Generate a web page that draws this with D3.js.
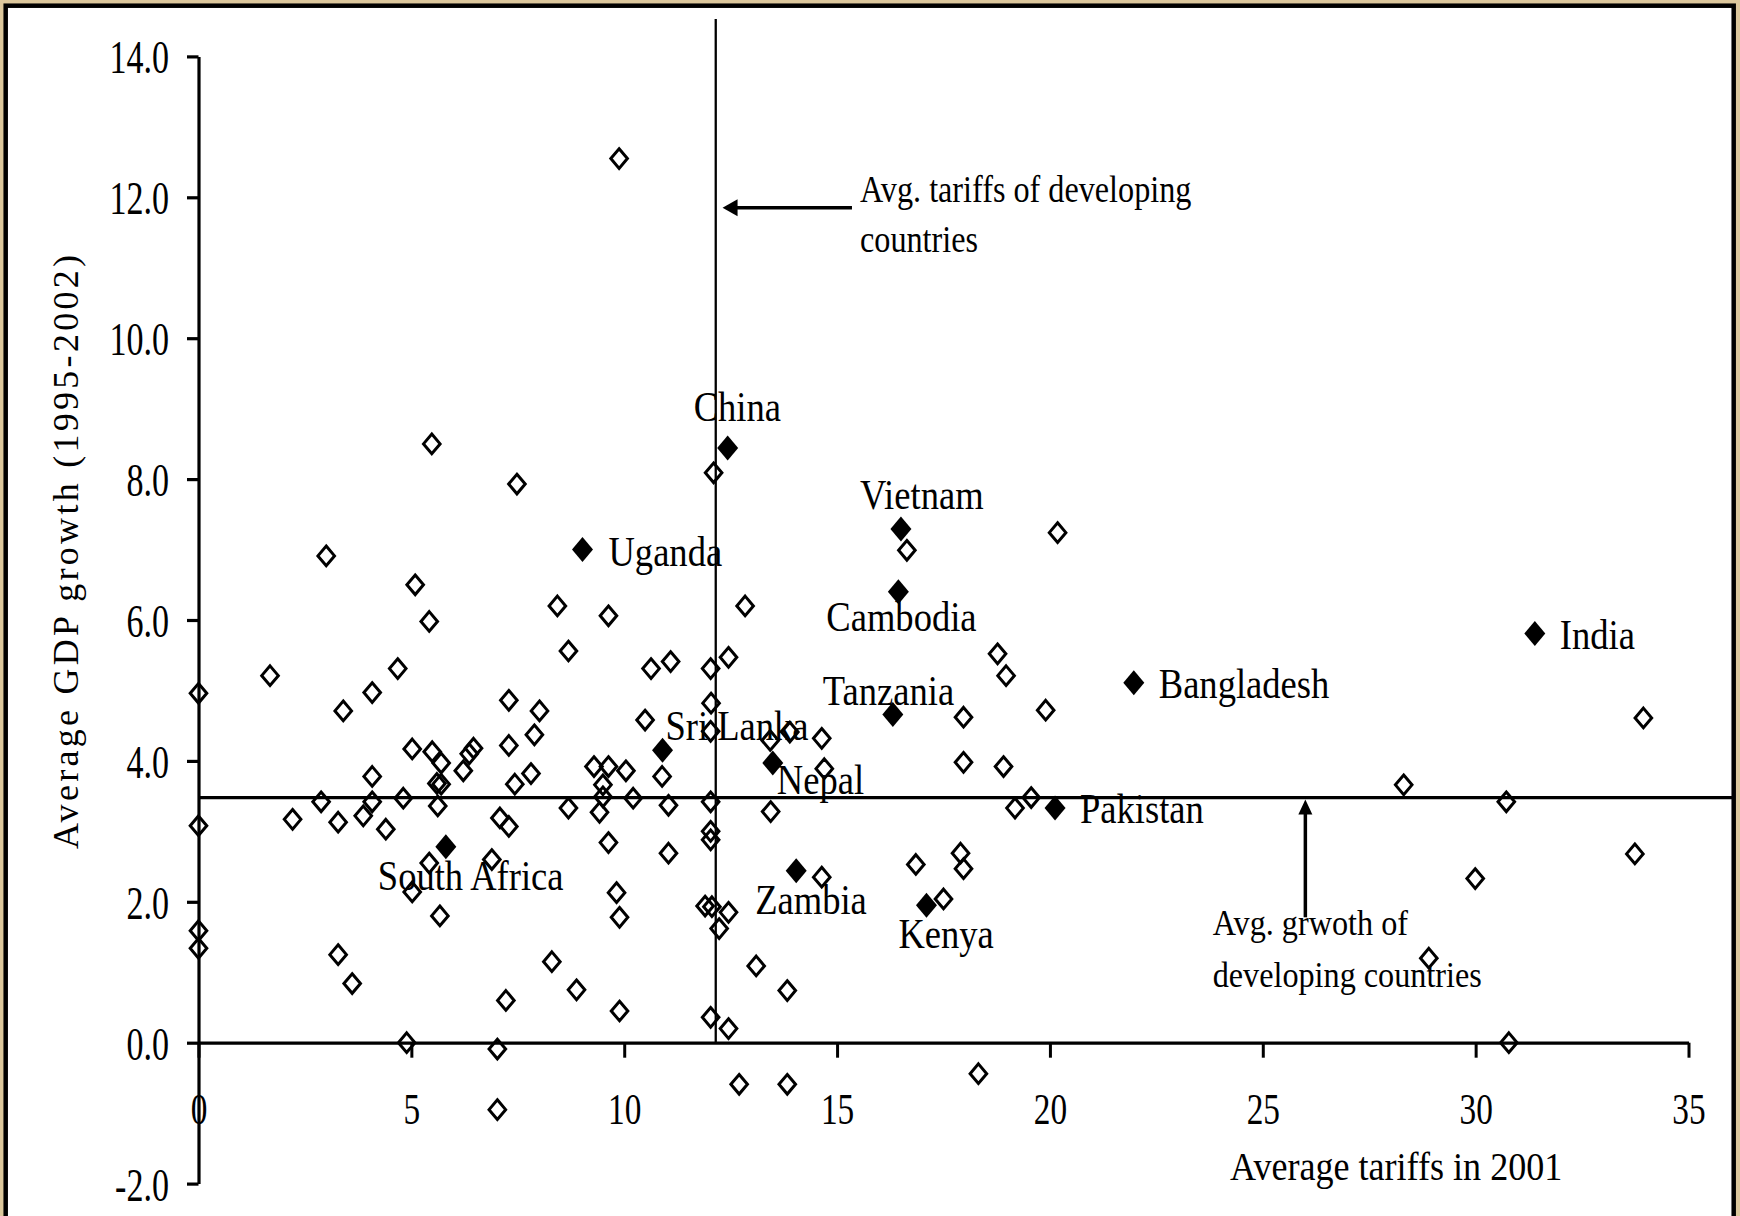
<!DOCTYPE html>
<html>
<head>
<meta charset="utf-8">
<script src="https://cdn.jsdelivr.net/npm/d3@7"></script>
<style>
  html, body { margin: 0; padding: 0; background: #dcc79c; }
  svg { display: block; }
  text { font-family: "Liberation Serif", "Times New Roman", serif; fill: #000; }
</style>
</head>
<body>
<div id="okvir"></div>
<script>
// all developing countries: average tariff 2001 and average GDP growth 1995-2002
const tariff = [
  0.0, 0.0, 0.0, 0.0, 1.68, 2.21, 2.88, 3.00, 3.28, 3.40,
  3.28, 3.61, 3.87, 4.08, 4.08, 4.08, 4.40, 4.68, 4.81, 4.89,
  5.02, 5.09, 5.02, 5.42, 5.48, 5.49, 5.70, 5.60, 5.70, 5.62,
  5.42, 5.67, 6.22, 6.36, 6.46, 6.89, 7.02, 7.02, 7.08, 7.22,
  7.29, 7.29, 7.29, 7.43, 7.48, 7.81, 7.89, 8.01, 8.30, 8.43,
  8.69, 8.69, 8.88, 9.29, 9.42, 9.50, 9.50, 9.63, 9.63, 9.63,
  9.82, 9.89, 9.89, 9.88, 10.04, 10.21, 10.49, 10.63, 10.89, 11.04,
  11.04, 11.09, 12.03, 12.04, 12.03, 12.03, 12.03, 12.03, 11.90, 12.06,
  12.03, 12.10, 12.23, 12.45, 12.45, 12.45, 12.70, 12.84, 13.10, 13.44,
  13.43, 13.83, 13.83, 13.89, 14.64, 14.64, 14.70, 16.85, 16.64, 17.50,
  17.90, 17.97, 17.97, 17.97, 18.32, 18.77, 18.91, 18.97, 19.18, 19.56,
  19.90, 20.18, 28.31, 28.90, 29.99, 30.72, 30.78, 33.74, 33.94
];
const growth = [
  4.96, 3.08, 1.59, 1.34, 5.21, 3.17, 3.42, 6.91, 3.13, 4.71,
  1.25, 0.84, 3.22, 3.78, 4.97, 3.42, 3.03, 5.31, 3.47, 0.00,
  4.17, 6.50, 2.14, 5.98, 8.50, 4.13, 3.97, 3.68, 3.67, 3.36,
  2.55, 1.80, 3.86, 4.10, 4.18, 2.60, -0.09, -0.95, 3.19, 0.60,
  4.86, 4.22, 3.07, 3.67, 7.93, 3.82, 4.37, 4.71, 1.15, 6.20,
  3.33, 5.56, 0.75, 3.92, 3.27, 3.66, 3.49, 6.06, 3.92, 2.84,
  2.13, 1.78, 0.45, 12.55, 3.86, 3.47, 4.58, 5.31, 3.78, 3.37,
  2.69, 5.41, 5.31, 4.82, 4.42, 3.42, 3.00, 2.88, 1.94, 1.93,
  0.36, 8.09, 1.62, 1.85, 0.20, 5.47, -0.59, 6.20, 1.09, 3.28,
  4.29, -0.59, 0.74, 4.41, 4.32, 2.35, 3.89, 2.53, 6.99, 2.04,
  2.69, 2.47, 4.62, 3.98, -0.44, 5.52, 3.92, 5.21, 3.33, 3.48,
  4.72, 7.24, 3.66, 1.20, 2.33, 3.42, 0.00, 2.68, 4.61
];

// highlighted countries
const countryNames = ["China", "Uganda", "Vietnam", "Cambodia", "Tanzania", "Sri Lanka", "Nepal",
  "Zambia", "Kenya", "South Africa", "Pakistan", "Bangladesh", "India"];
const countryTariff = [12.43, 9.02, 16.50, 16.44, 16.31, 10.90, 13.49, 14.04, 17.10, 5.81, 20.12, 21.97, 31.39];
const countryGrowth = [8.44, 7.00, 7.29, 6.40, 4.66, 4.15, 3.97, 2.44, 1.95, 2.78, 3.33, 5.11, 5.81];

// averages of developing countries
const avgTariff = 12.15;
const avgGrowth = 3.48;

const xTicks = [0, 5, 10, 15, 20, 25, 30, 35];
const yTicks = [-2, 0, 2, 4, 6, 8, 10, 12, 14];

const sirina = 1740, visina = 1216;

// label placement relative to its diamond (px)
const labelPomak = {
  "China": [-34, -27], "Uganda": [26, 16], "Vietnam": [-41, -20], "Cambodia": [-72, 39],
  "Tanzania": [-70, -9], "Sri Lanka": [3, -10], "Nepal": [4, 31], "Zambia": [-41, 43],
  "Kenya": [-28, 43], "South Africa": [-68, 43], "Pakistan": [25, 15], "Bangladesh": [25, 15],
  "India": [25, 16]
};

const xScale = d3.scaleLinear().domain([0, 35]).range([198.5, 1688.5]);
const yScale = d3.scaleLinear().domain([-2, 14]).range([1183.6, 56.4]);

// squeeze text horizontally like the stretched original
function stisni(sel, k) {
  sel.each(function () {
    const w = this.getComputedTextLength();
    d3.select(this).attr("textLength", w * k).attr("lengthAdjust", "spacingAndGlyphs");
  });
}

const romb = (w, h) => `M0,${-h}L${w},0L0,${h}L${-w},0Z`;

const okvir = d3.select("#okvir")
  .append("svg")
  .attr("width", sirina)
  .attr("height", visina);

// parchment background + white panel with black frame
okvir.append("rect").attr("width", sirina).attr("height", visina).attr("fill", "#dcc79c");
okvir.append("rect")
  .attr("x", 5.7).attr("y", 5.7).attr("width", 1728).attr("height", 1260)
  .attr("fill", "#fff").attr("stroke", "#000").attr("stroke-width", 4.5);

// axes
const yAxis = d3.axisLeft(yScale)
  .tickValues(yTicks)
  .tickFormat(d => d.toFixed(1))
  .tickSize(11.5)
  .tickSizeOuter(0)
  .tickPadding(18);

const gy = okvir.append("g")
  .attr("transform", `translate(${xScale(0)},0)`)
  .call(yAxis);
gy.select(".domain").attr("stroke-width", 3.2);
gy.selectAll(".tick line").attr("stroke-width", 3.2);
gy.selectAll(".tick text")
  .attr("font-size", 46)
  .attr("font-family", "Liberation Serif, Times New Roman, serif")
  .attr("dy", "0.36em")
  .call(stisni, 0.74);

const xAxis = d3.axisBottom(xScale)
  .tickValues(xTicks)
  .tickFormat(d => String(d))
  .tickSize(15)
  .tickSizeOuter(0)
  .tickPadding(34);

const gx = okvir.append("g")
  .attr("transform", `translate(0,${yScale(0)})`)
  .call(xAxis);
gx.select(".domain").attr("stroke-width", 3.2);
gx.selectAll(".tick line").attr("stroke-width", 3);
gx.selectAll(".tick text")
  .attr("font-size", 45)
  .attr("font-family", "Liberation Serif, Times New Roman, serif")
  .call(stisni, 0.74);

// average lines
okvir.append("line")
  .attr("x1", xScale(avgTariff)).attr("x2", xScale(avgTariff))
  .attr("y1", yScale(0)).attr("y2", 19)
  .attr("stroke", "#000").attr("stroke-width", 2.3);

okvir.append("line")
  .attr("x1", xScale(0)).attr("x2", 1732)
  .attr("y1", yScale(avgGrowth)).attr("y2", yScale(avgGrowth))
  .attr("stroke", "#000").attr("stroke-width", 3.2);

// points
const tocke = tariff.map((t, i) => ({ t, g: growth[i] }));
okvir.append("g").selectAll("path")
  .data(tocke)
  .join("path")
  .attr("d", romb(8.3, 9.8))
  .attr("transform", d => `translate(${xScale(d.t)},${yScale(d.g)})`)
  .attr("fill", "none")
  .attr("stroke", "#000")
  .attr("stroke-width", 3);

const zemlje = countryNames.map((n, i) => ({ n, t: countryTariff[i], g: countryGrowth[i] }));
okvir.append("g").selectAll("path")
  .data(zemlje)
  .join("path")
  .attr("d", romb(10.5, 12.5))
  .attr("transform", d => `translate(${xScale(d.t)},${yScale(d.g)})`)
  .attr("fill", "#000");

okvir.append("g").selectAll("text")
  .data(zemlje)
  .join("text")
  .attr("x", d => xScale(d.t) + labelPomak[d.n][0])
  .attr("y", d => yScale(d.g) + labelPomak[d.n][1])
  .attr("font-size", 42)
  .text(d => d.n)
  .call(stisni, 0.87);

// axis titles
okvir.append("text")
  .attr("x", 1230).attr("y", 1180)
  .attr("font-size", 41)
  .text("Average tariffs in 2001")
  .call(stisni, 0.88);

okvir.append("text")
  .attr("transform", "translate(78,552) rotate(-90)")
  .attr("text-anchor", "middle")
  .attr("font-size", 36)
  .attr("textLength", 594)
  .attr("lengthAdjust", "spacing")
  .text("Average GDP growth (1995-2002)");

// annotation: average tariff
const strelica1 = { x1: 15.35, x2: 12.31, y: 11.85 };
okvir.append("line")
  .attr("x1", xScale(strelica1.x1)).attr("x2", xScale(strelica1.x2) + 12)
  .attr("y1", yScale(strelica1.y)).attr("y2", yScale(strelica1.y))
  .attr("stroke", "#000").attr("stroke-width", 3.5);
okvir.append("path")
  .attr("d", `M${xScale(strelica1.x2)},${yScale(strelica1.y)}l15,-8.5l0,17z`)
  .attr("fill", "#000");

const tekst1 = okvir.append("g").attr("font-size", 37);
tekst1.append("text").attr("x", 860).attr("y", 202).text("Avg. tariffs of developing").call(stisni, 0.87);
tekst1.append("text").attr("x", 860).attr("y", 252).text("countries").call(stisni, 0.87);

// annotation: average growth
const strelica2 = { x: 26, y1: 1.78, y2: avgGrowth };
okvir.append("line")
  .attr("x1", xScale(strelica2.x)).attr("x2", xScale(strelica2.x))
  .attr("y1", yScale(strelica2.y1)).attr("y2", yScale(strelica2.y2) + 14)
  .attr("stroke", "#000").attr("stroke-width", 3.5);
okvir.append("path")
  .attr("d", `M${xScale(strelica2.x)},${yScale(strelica2.y2) + 2}l-7,15l14,0z`)
  .attr("fill", "#000");

const tekst2 = okvir.append("g").attr("font-size", 35);
tekst2.append("text").attr("x", 1212.7).attr("y", 935).text("Avg. grwoth of").call(stisni, 0.92);
tekst2.append("text").attr("x", 1212.7).attr("y", 987).text("developing countries").call(stisni, 0.92);
</script>
</body>
</html>
